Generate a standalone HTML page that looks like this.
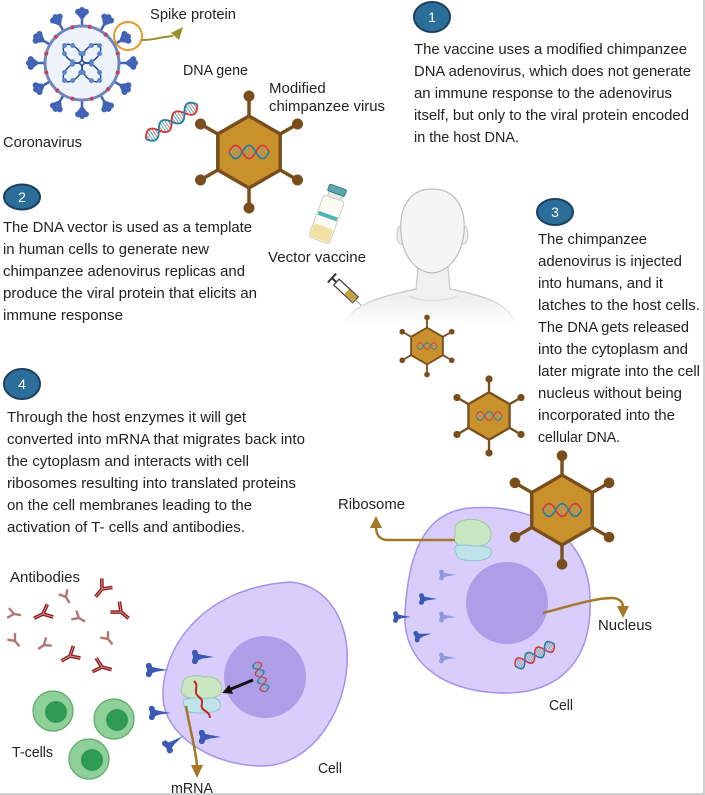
<!DOCTYPE html>
<html><head><meta charset="utf-8"><style>
html,body{margin:0;padding:0;background:#fff;}
svg{display:block;}
text{font-family:"Liberation Sans",Arial,sans-serif;font-size:15px;fill:#222;}
</style></head><body>
<svg width="705" height="795" viewBox="0 0 705 795" xmlns="http://www.w3.org/2000/svg">
<defs>
<g id="helix">
 <path d="M2.5,-3V3M17.5,-3V3M32.5,-3V3M47.5,-3V3M10,-5.2V5.2M25,-5.2V5.2M40,-5.2V5.2M55,-5.2V5.2" stroke="#e58080" stroke-width="1.1"/>
 <path d="M5,-5.2V5.2M20,-5.2V5.2M35,-5.2V5.2M50,-5.2V5.2M12.5,-3V3M27.5,-3V3M42.5,-3V3M57.5,-3V3" stroke="#6aacd8" stroke-width="1.1"/>
 <path d="M7.5,-6V6M22.5,-6V6M37.5,-6V6M52.5,-6V6" stroke="#5bbaa8" stroke-width="1.1"/>
 <path d="M0,0 C5,-8 10,-8 15,0 S25,8 30,0 S40,-8 45,0 S55,8 60,0" stroke="#d13b3b" stroke-width="1.8" fill="none"/>
 <path d="M0,0 C5,8 10,8 15,0 S25,-8 30,0 S40,8 45,0 S55,-8 60,0" stroke="#2a7d9f" stroke-width="1.8" fill="none"/>
</g>
<g id="helix2">
 <path d="M4,-4.8V4.8M24,-4.8V4.8M44,-4.8V4.8M12,-7.8V7.8M32,-7.8V7.8M52,-7.8V7.8" stroke="#e58080" stroke-width="1.2"/>
 <path d="M8,-7.8V7.8M28,-7.8V7.8M48,-7.8V7.8M16,-4.8V4.8M36,-4.8V4.8M56,-4.8V4.8" stroke="#5bbaa8" stroke-width="1.2"/>
 <path d="M0,0 C6.7,-11 13.3,-11 20,0 S33.3,11 40,0 S53.3,-11 60,0" stroke="#d13b3b" stroke-width="2.2" fill="none"/>
 <path d="M0,0 C6.7,11 13.3,11 20,0 S33.3,-11 40,0 S53.3,11 60,0" stroke="#2a7d9f" stroke-width="2.2" fill="none"/>
</g>
<g id="hex">
 <g stroke="#7a4d1c" stroke-width="3.5">
  <line x1="0" y1="-36" x2="0" y2="-56"/><line x1="31.2" y1="-18" x2="48.5" y2="-28"/>
  <line x1="31.2" y1="18" x2="48.5" y2="28"/><line x1="0" y1="36" x2="0" y2="56"/>
  <line x1="-31.2" y1="18" x2="-48.5" y2="28"/><line x1="-31.2" y1="-18" x2="-48.5" y2="-28"/>
 </g>
 <g fill="#7a4d1c">
  <circle cx="0" cy="-56" r="5.5"/><circle cx="48.5" cy="-28" r="5.5"/><circle cx="48.5" cy="28" r="5.5"/>
  <circle cx="0" cy="56" r="5.5"/><circle cx="-48.5" cy="28" r="5.5"/><circle cx="-48.5" cy="-28" r="5.5"/>
 </g>
 <polygon points="0,-36 31.2,-18 31.2,18 0,36 -31.2,18 -31.2,-18" fill="#c9912b" stroke="#7a4d1c" stroke-width="3.5" stroke-linejoin="round"/>
 <use href="#helix2" transform="translate(-20,0) scale(0.67,0.8)"/>
</g>
<g id="cs">
 <path d="M0,-36 L0,-45" stroke="#4063b5" stroke-width="2.5"/>
 <g fill="#4063b5">
  <path d="M-1.3,-44 L-5.8,-50 L5.8,-50 L1.3,-44Z"/>
  <circle cx="-3.9" cy="-51.3" r="3"/><circle cx="3.9" cy="-51.3" r="3"/><circle cx="0" cy="-53" r="3"/>
 </g>
</g>
<rect id="rd" x="-1.5" y="-39" width="3" height="4" fill="#c2414f"/>
<g id="lp">
 <ellipse cx="14" cy="0" rx="12" ry="7" fill="none" stroke="#2c4c8f" stroke-width="1.6"/>
 <g fill="#5c86c9"><circle cx="26" cy="0" r="2.6"/><circle cx="20" cy="6.1" r="2.6"/><circle cx="8" cy="6.1" r="2.6"/><circle cx="20" cy="-6.1" r="2.6"/><circle cx="8" cy="-6.1" r="2.6"/></g>
</g>
<g id="ab">
 <path d="M0,10 L0,0 L-7,-8 M0,0 L7,-8" stroke="#8e1b1b" stroke-width="3.6" fill="none"/>
 <path d="M0,10 L0,0 L-7,-8 M0,0 L7,-8" stroke="#e6b0b0" stroke-width="0.8" fill="none"/>
</g>
<g id="abs">
 <path d="M0,7 L0,0 L-5,-6 M0,0 L5,-6" stroke="#b27474" stroke-width="2.4" fill="none"/>
</g>
<path id="sp" d="M0,-1 C-3,-6 1,-8 4,-6 L5,-3 L9,-2 L20,0 L9,1.5 L5,3 L4,6 C1,8 -3,6 0,1 Z" fill="#3a5ab5"/>
<linearGradient id="fade" x1="0" y1="0" x2="0" y2="1">
 <stop offset="0" stop-color="#fff" stop-opacity="0"/><stop offset="1" stop-color="#fff" stop-opacity="1"/>
</linearGradient>
</defs>

<!-- borders -->
<rect x="703" y="0" width="2" height="795" fill="#d0d0d0"/>
<rect x="0" y="793" width="705" height="2" fill="#d0d0d0"/>

<!-- Coronavirus -->
<g>
 <use href="#cs" transform="translate(82,63) rotate(0)"/>
 <use href="#cs" transform="translate(82,63) rotate(30)"/>
 <use href="#cs" transform="translate(82,63) rotate(60)"/>
 <use href="#cs" transform="translate(82,63) rotate(90)"/>
 <use href="#cs" transform="translate(82,63) rotate(120)"/>
 <use href="#cs" transform="translate(82,63) rotate(150)"/>
 <use href="#cs" transform="translate(82,63) rotate(180)"/>
 <use href="#cs" transform="translate(82,63) rotate(210)"/>
 <use href="#cs" transform="translate(82,63) rotate(240)"/>
 <use href="#cs" transform="translate(82,63) rotate(270)"/>
 <use href="#cs" transform="translate(82,63) rotate(300)"/>
 <use href="#cs" transform="translate(82,63) rotate(330)"/>
 <circle cx="82" cy="63" r="37" fill="#eef2fa" stroke="#6f84bf" stroke-width="3"/>
 <use href="#rd" transform="translate(82,63) rotate(12)"/><use href="#rd" transform="translate(82,63) rotate(40)"/>
 <use href="#rd" transform="translate(82,63) rotate(75)"/><use href="#rd" transform="translate(82,63) rotate(105)"/>
 <use href="#rd" transform="translate(82,63) rotate(135)"/><use href="#rd" transform="translate(82,63) rotate(165)"/>
 <use href="#rd" transform="translate(82,63) rotate(195)"/><use href="#rd" transform="translate(82,63) rotate(222)"/>
 <use href="#rd" transform="translate(82,63) rotate(255)"/><use href="#rd" transform="translate(82,63) rotate(285)"/>
 <use href="#rd" transform="translate(82,63) rotate(315)"/><use href="#rd" transform="translate(82,63) rotate(345)"/>
 <use href="#lp" transform="translate(82,63) rotate(45) scale(0.95)"/>
 <use href="#lp" transform="translate(82,63) rotate(135) scale(0.95)"/>
 <use href="#lp" transform="translate(82,63) rotate(225) scale(0.95)"/>
 <use href="#lp" transform="translate(82,63) rotate(315) scale(0.95)"/>
 <circle cx="128" cy="36" r="14" fill="none" stroke="#e8962a" stroke-width="2"/>
 <path d="M142,40 C155,40 160,37 173,36" stroke="#9a8b2c" stroke-width="2" fill="none"/>
 <polygon points="183,27 171,33 179,40" fill="#9a8b2c"/>
</g>
<text x="150" y="19" textLength="86" lengthAdjust="spacingAndGlyphs">Spike protein</text>
<text x="183" y="75" textLength="65" lengthAdjust="spacingAndGlyphs">DNA gene</text>
<text x="269" y="93">Modified</text>
<text x="269" y="111" textLength="116" lengthAdjust="spacingAndGlyphs">chimpanzee virus</text>
<text x="3" y="147" textLength="79" lengthAdjust="spacingAndGlyphs">Coronavirus</text>

<!-- DNA gene helix -->
<use href="#helix" transform="translate(146,139) rotate(-34) scale(1.03,1.05)"/>

<!-- top hex virus -->
<use href="#hex" transform="translate(249,152)"/>

<!-- number circles -->
<g stroke="#1c3f5e" stroke-width="2" fill="#2c6e9a">
 <ellipse cx="432" cy="17" rx="18" ry="15"/>
 <ellipse cx="22" cy="197" rx="18" ry="12.5"/>
 <ellipse cx="555" cy="212" rx="18" ry="13"/>
 <ellipse cx="22" cy="384" rx="18" ry="15"/>
</g>
<text x="432" y="22" text-anchor="middle" style="fill:#fff;font-size:14px">1</text>
<text x="22" y="202" text-anchor="middle" style="fill:#fff;font-size:14px">2</text>
<text x="555" y="217" text-anchor="middle" style="fill:#fff;font-size:14px">3</text>
<text x="22" y="389" text-anchor="middle" style="fill:#fff;font-size:14px">4</text>

<!-- block 1 -->
<text x="414" y="54" textLength="273" lengthAdjust="spacingAndGlyphs">The vaccine uses a modified chimpanzee</text>
<text x="414" y="76" textLength="277" lengthAdjust="spacingAndGlyphs">DNA adenovirus, which does not generate</text>
<text x="414" y="98" textLength="258" lengthAdjust="spacingAndGlyphs">an immune response to the adenovirus</text>
<text x="414" y="120" textLength="275" lengthAdjust="spacingAndGlyphs">itself, but only to the viral protein encoded</text>
<text x="414" y="142" textLength="105" lengthAdjust="spacingAndGlyphs">in the host DNA.</text>

<!-- block 2 -->
<text x="3" y="232" textLength="249" lengthAdjust="spacingAndGlyphs">The DNA vector is used as a template</text>
<text x="3" y="254" textLength="206" lengthAdjust="spacingAndGlyphs">in human cells to generate new</text>
<text x="3" y="276" textLength="242" lengthAdjust="spacingAndGlyphs">chimpanzee adenovirus replicas and</text>
<text x="3" y="298" textLength="254" lengthAdjust="spacingAndGlyphs">produce the viral protein that elicits an</text>
<text x="3" y="320" textLength="120" lengthAdjust="spacingAndGlyphs">immune response</text>

<!-- block 3 -->
<text x="538" y="244" textLength="109" lengthAdjust="spacingAndGlyphs">The chimpanzee</text>
<text x="538" y="266" textLength="144" lengthAdjust="spacingAndGlyphs">adenovirus is injected</text>
<text x="538" y="288" textLength="125" lengthAdjust="spacingAndGlyphs">into humans, and it</text>
<text x="538" y="310" textLength="162" lengthAdjust="spacingAndGlyphs">latches to the host cells.</text>
<text x="538" y="332" textLength="151" lengthAdjust="spacingAndGlyphs">The DNA gets released</text>
<text x="538" y="354" textLength="150" lengthAdjust="spacingAndGlyphs">into the cytoplasm and</text>
<text x="538" y="376" textLength="162" lengthAdjust="spacingAndGlyphs">later migrate into the cell</text>
<text x="538" y="398" textLength="144" lengthAdjust="spacingAndGlyphs">nucleus without being</text>
<text x="538" y="420" textLength="137" lengthAdjust="spacingAndGlyphs">incorporated into the</text>
<text x="538" y="442" textLength="82" lengthAdjust="spacingAndGlyphs">cellular DNA.</text>

<!-- block 4 -->
<text x="7" y="422" textLength="239" lengthAdjust="spacingAndGlyphs">Through the host enzymes it will get</text>
<text x="7" y="444" textLength="298" lengthAdjust="spacingAndGlyphs">converted into mRNA that migrates back into</text>
<text x="7" y="466" textLength="242" lengthAdjust="spacingAndGlyphs">the cytoplasm and interacts with cell</text>
<text x="7" y="488" textLength="289" lengthAdjust="spacingAndGlyphs">ribosomes resulting into translated proteins</text>
<text x="7" y="510" textLength="245" lengthAdjust="spacingAndGlyphs">on the cell membranes leading to the</text>
<text x="7" y="532" textLength="238" lengthAdjust="spacingAndGlyphs">activation of T- cells and antibodies.</text>

<!-- vial -->
<g transform="translate(327,218) rotate(20)">
 <rect x="-7" y="-27" width="14" height="7" fill="#e9e9e4" stroke="#c8c8bc"/>
 <rect x="-9" y="-33" width="18" height="7" rx="1.5" fill="#5aa7b0" stroke="#3d7f88"/>
 <rect x="-11" y="-21" width="22" height="45" rx="3" fill="#fbfbf4" stroke="#cfcfc0"/>
 <rect x="-10" y="9" width="20" height="14" rx="2" fill="#efe1a4"/>
 <rect x="-10" y="-4" width="20" height="4" fill="#4fb3b3"/>
</g>
<text x="268" y="262" textLength="98" lengthAdjust="spacingAndGlyphs">Vector vaccine</text>

<!-- syringe -->
<g transform="translate(332,278) rotate(43)">
 <line x1="0" y1="-6" x2="0" y2="6" stroke="#333" stroke-width="2"/>
 <line x1="0" y1="0" x2="6" y2="0" stroke="#333" stroke-width="2"/>
 <rect x="6" y="-4" width="26" height="8" fill="#fff" stroke="#444" stroke-width="1.3"/>
 <rect x="20" y="-3.3" width="11.5" height="6.6" fill="#c9a03a"/>
 <line x1="32" y1="0" x2="55" y2="0" stroke="#888" stroke-width="1"/>
</g>

<!-- head & shoulders -->
<g>
 <path d="M346,322 C352,303 388,295 416,289 L419,258 L447,258 L450,289 C480,295 508,302 514,322 Z" fill="#f0f0f0" stroke="#c6c6c6" stroke-width="1.2"/>
 <path d="M409,296 C420,302 446,302 457,296" fill="none" stroke="#d8d8d8" stroke-width="1"/>
 <ellipse cx="401" cy="235" rx="4" ry="9" fill="#efefef" stroke="#c4c4c4"/>
 <ellipse cx="464" cy="235" rx="4" ry="9" fill="#efefef" stroke="#c4c4c4"/>
 <path d="M432,189 C455,189 466,207 464,232 C462,256 448,272 432,273 C416,272 402,256 401,232 C399,207 410,189 432,189 Z" fill="#f5f5f5" stroke="#bdbdbd" stroke-width="1.2"/>
 <rect x="340" y="298" width="180" height="26" fill="url(#fade)"/>
</g>

<!-- small hexes -->
<use href="#hex" transform="translate(427,346) scale(0.51)"/>
<use href="#hex" transform="translate(489,416) scale(0.66)"/>

<!-- right cell -->
<path d="M470,508 C540,503 590,540 590,600 C592,660 560,695 500,693 C440,691 402,660 405,612 C408,562 420,512 470,508 Z" fill="#d9cdfb" stroke="#a392ee" stroke-width="1.5"/>
<circle cx="507" cy="603" r="41" fill="#ae9ee8"/>
<path d="M455,526 C462,516 482,518 488,526 C495,534 490,546 478,546 C466,550 452,546 455,536 Z" fill="#c9e6c3" stroke="#9bc79a"/>
<path d="M455,550 C452,542 470,546 478,546 C488,546 494,548 490,556 C486,562 466,562 458,558 Z" fill="#bfe3ea" stroke="#8ec4d0"/>
<use href="#hex" transform="translate(562,510) scale(0.97)"/>
<use href="#helix" transform="translate(515,666) rotate(-29) scale(0.75,0.95)"/>
<g>
 <use href="#sp" transform="translate(440,575) scale(0.8)" opacity="0.45"/>
 <use href="#sp" transform="translate(420,599) scale(0.85)"/>
 <use href="#sp" transform="translate(394,617) scale(0.85)"/>
 <use href="#sp" transform="translate(440,617) scale(0.8)" opacity="0.45"/>
 <use href="#sp" transform="translate(415,637) rotate(-12) scale(0.85)"/>
 <use href="#sp" transform="translate(440,658) scale(0.8)" opacity="0.45"/>
</g>
<path d="M455,540 L388,540 C380,540 376,535 376,527" stroke="#a57828" stroke-width="2.5" fill="none"/>
<polygon points="376,516 370,528 382,528" fill="#a57828"/>
<path d="M543,613 C570,606 595,598 612,598 C620,598 623,603 623,607" stroke="#a57828" stroke-width="2.5" fill="none"/>
<polygon points="623,618 617,606 629,606" fill="#a57828"/>
<text x="338" y="509" textLength="67" lengthAdjust="spacingAndGlyphs">Ribosome</text>
<text x="598" y="630" textLength="54" lengthAdjust="spacingAndGlyphs">Nucleus</text>
<text x="549" y="710" textLength="24" lengthAdjust="spacingAndGlyphs">Cell</text>

<!-- left cell -->
<path d="M290,582 C330,585 350,625 347,665 C344,715 310,766 262,766 C212,766 163,735 163,696 C162,650 200,588 290,582 Z" fill="#d9cdfb" stroke="#a392ee" stroke-width="1.5"/>
<circle cx="265" cy="677" r="41" fill="#ae9ee8"/>
<use href="#helix" transform="translate(256,662) rotate(72) scale(0.52,0.75)"/>
<path d="M183,684 C182,676 196,674 204,677 C214,675 224,682 221,692 C218,700 200,700 190,698 C180,696 180,690 183,684 Z" fill="#c9e6c3" stroke="#9bc79a"/>
<path d="M183,702 C182,696 200,699 210,698 C218,697 222,702 220,708 C216,714 195,714 186,711 Z" fill="#bfe3ea" stroke="#8ec4d0"/>
<path d="M194,681 C200,686 192,692 199,697 C206,702 198,706 204,710 C209,713 210,716 210,718" stroke="#c8231f" stroke-width="2" fill="none"/>
<line x1="253" y1="680" x2="231" y2="689" stroke="#111" stroke-width="3"/>
<polygon points="222,693 233.1,693.8 229.3,684.6" fill="#111"/>
<path d="M186,706 C190,730 196,750 197,766" stroke="#a57828" stroke-width="2.5" fill="none"/>
<polygon points="197,778 191,765 203,765" fill="#a57828"/>
<g>
 <use href="#sp" transform="translate(147,670) scale(1.05)"/>
 <use href="#sp" transform="translate(193,657) scale(1.05)"/>
 <use href="#sp" transform="translate(150,713) scale(1.05)"/>
 <use href="#sp" transform="translate(200,737) scale(1.05)"/>
 <use href="#sp" transform="translate(166,748) rotate(-35) scale(1.05)"/>
</g>
<text x="318" y="773" textLength="24" lengthAdjust="spacingAndGlyphs">Cell</text>
<text x="171" y="793" textLength="42" lengthAdjust="spacingAndGlyphs">mRNA</text>

<!-- antibodies -->
<text x="10" y="582" textLength="70" lengthAdjust="spacingAndGlyphs">Antibodies</text>
<use href="#ab" transform="translate(102,589) rotate(40)"/>
<use href="#abs" transform="translate(66,597) rotate(-30)"/>
<use href="#abs" transform="translate(14,614) rotate(-80)"/>
<use href="#ab" transform="translate(43,614) rotate(65)"/>
<use href="#abs" transform="translate(79,618) rotate(-60)"/>
<use href="#ab" transform="translate(121,612) rotate(-50)"/>
<use href="#abs" transform="translate(15,641) rotate(-40)"/>
<use href="#abs" transform="translate(44,645) rotate(55)"/>
<use href="#abs" transform="translate(108,639) rotate(-40)"/>
<use href="#ab" transform="translate(70,656) rotate(60)"/>
<use href="#ab" transform="translate(102,667) rotate(-75)"/>

<!-- T-cells -->
<g fill="#8fcf98" stroke="#5aa86a" stroke-width="1.2">
 <circle cx="53" cy="711" r="20"/><circle cx="114" cy="719" r="20"/><circle cx="89" cy="759" r="20"/>
</g>
<g fill="#2f9a52">
 <circle cx="56" cy="712" r="11"/><circle cx="117" cy="720" r="11"/><circle cx="92" cy="760" r="11"/>
</g>
<text x="12" y="757" textLength="41" lengthAdjust="spacingAndGlyphs">T-cells</text>
</svg>
</body></html>
